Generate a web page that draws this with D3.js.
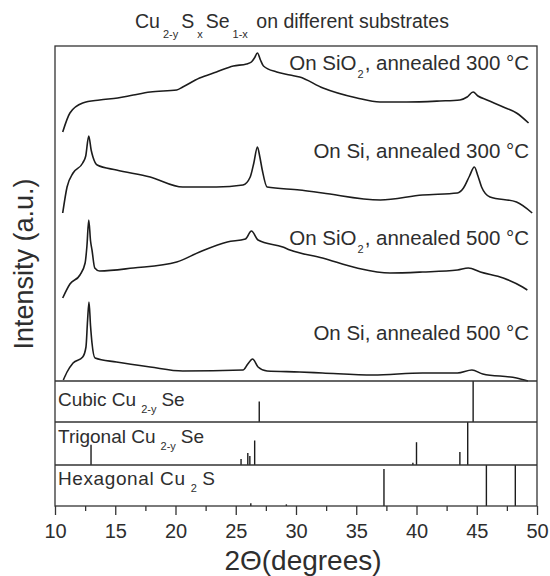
<!DOCTYPE html>
<html>
<head>
<meta charset="utf-8">
<script src="https://cdn.jsdelivr.net/npm/d3@7"></script>
<style>
  body { margin: 0; background: white; }
  svg { font-family: "Liberation Sans", Arial, sans-serif; }
</style>
</head>
<body>
<div id="container"></div>
<script>
/* CONSTANTS AND GLOBALS */
const width = 550;
const height = 576;

/* DATA */
const titleText = "Cu_{2-y}S_{x}Se_{1-x} on different substrates";
const xLabel = "2Θ(degrees)";
const yLabel = "Intensity (a.u.)";
const xTicks = [10, 15, 20, 25, 30, 35, 40, 45, 50];
const xMinorTicks = [12.5, 17.5, 22.5, 27.5, 32.5, 37.5, 42.5, 47.5];

const curveNames = [
  "On SiO_{2}, annealed 300 °C",
  "On Si, annealed 300 °C",
  "On SiO_{2}, annealed 500 °C",
  "On Si, annealed 500 °C"
];

// [2θ, intensity (a.u., stacked)]
const sio2_300 = [[10.64,249],[11.24,268],[12.3,278],[13.7,281],[15.2,283],[16.5,286],[17.9,289],[20.1,291],
  [20.6,294],[22.0,303],[23.4,309],[24.8,315],[25.9,317],[26.3,319],[26.55,323],[26.8,328],[27.05,321],
  [27.3,315],[28.4,309],[29.5,306],[30.3,304],[32.24,293],[35.06,283],[36.97,279],[39.2,279],[41.95,280],
  [43.6,281],[44.2,284],[44.7,289],[45.1,285],[45.85,281],[47.2,274],[48.3,268],[49.3,258]];

const si_300 = [[10.64,168],[11.0,194],[11.5,208],[12.3,218],[12.55,225],[12.8,245],[13.0,231],[13.15,224],
  [13.5,216],[15.1,211],[17.9,204],[20.6,194],[23.4,194],[25.6,196],[26.2,204],[26.5,218],[26.8,234],
  [27.0,224],[27.2,211],[27.6,194],[30.3,191],[32.2,188],[37.0,181],[40.5,186],[43.4,188],[43.9,193],
  [44.4,205],[44.8,214],[45.1,205],[45.4,194],[46.1,184],[48.3,179],[49.6,168]];

const sio2_500 = [[10.64,83],[11.24,97],[12.07,106],[12.5,118],[12.65,135],[12.8,161],[12.95,140],[13.07,131],
  [13.3,113],[13.7,110],[16.5,113],[20.1,119],[22.0,129],[24.3,139],[25.8,142],[26.3,150],[26.85,141],
  [28.9,134],[29.5,131],[32.2,123],[35.06,113],[37.8,108],[40.5,109],[43.4,111],[44.3,113],[45.3,109],
  [47.2,103],[48.8,94],[49.2,91]];

const si_500 = [[10.69,1],[11.0,9],[11.5,18],[12.3,24],[12.57,34],[12.7,60],[12.82,79],[12.95,55],[13.07,38],
  [13.32,23],[15.1,19],[17.9,14],[20.6,10],[25.6,11],[26.0,17],[26.4,22],[26.85,14],[27.6,10],[30.3,9],
  [32.2,8],[36.4,6],[40.5,8],[43.4,8],[44.6,11],[45.5,7],[48.3,3],[49.25,0]];

const phaseNames = ["Cubic Cu_{2-y}Se", "Trigonal Cu_{2-y}Se", "Hexagonal Cu_{2}S"];

// reference sticks: [2θ, relative intensity]
const cubicPeaks = [[26.95, 50], [44.7, 100]];
const trigonalPeaks = [[12.99, 47], [25.44, 14], [26.0, 28], [26.17, 21], [26.57, 57],
  [39.7, 5], [40.0, 53], [43.6, 30], [44.25, 100]];
const hexagonalPeaks = [[26.25, 7], [29.2, 4], [37.3, 90], [45.8, 100], [48.2, 100]];

/* LAYOUT */
const plotLeft = 55, plotRight = 537, plotTop = 46;
const mainBottom = 381;
const panelEdges = [381, 422, 465, 506];
const panelLabelOffset = [25, 21, 20];
const curveLabelY = [70, 158, 245, 340];
const inkColor = "#1c1c1c";
const textColor = "#2e2e2e";

/* HELPERS */
// write "a_{sub}b" style strings into tspans
function richText(sel, str, subSize, subDy, gap) {
  const parts = str.split(/(_\{[^}]*\})/).filter(s => s.length);
  let shifted = false;
  parts.forEach(p => {
    const isSub = p.startsWith("_{");
    const t = sel.append("tspan").text(isSub ? p.slice(2, -1) : p);
    if (isSub) {
      t.attr("font-size", subSize).attr("dy", subDy).attr("dx", gap);
      shifted = true;
    } else if (shifted) {
      t.attr("dy", -subDy).attr("dx", gap);
      shifted = false;
    }
  });
}

/* SCALES */
const xScale = d3.scaleLinear()
  .domain([10, 50])
  .range([plotLeft, plotRight]);

const yMain = d3.scaleLinear()
  .domain([0, 335])
  .range([mainBottom, plotTop]);

/* HTML ELEMENTS */
const svg = d3.select("#container")
  .append("svg")
  .attr("width", width)
  .attr("height", height)
  .style("background-color", "white");

// title
svg.append("text")
  .attr("x", 135)
  .attr("y", 28)
  .attr("font-size", 19.5)
  .attr("fill", textColor)
  .call(t => richText(t, titleText, 11, 10, 3));

// XRD curves
const line = d3.line()
  .x(d => xScale(d[0]))
  .y(d => yMain(d[1]))
  .curve(d3.curveMonotoneX);

svg.selectAll(".curve")
  .data([sio2_300, si_300, sio2_500, si_500])
  .join("path")
  .attr("class", "curve")
  .attr("d", line)
  .attr("fill", "none")
  .attr("stroke", inkColor)
  .attr("stroke-width", 1.6)
  .attr("stroke-linejoin", "round");

svg.selectAll(".curve-label")
  .data(curveNames)
  .join("text")
  .attr("class", "curve-label")
  .attr("x", 529)
  .attr("y", (d, i) => curveLabelY[i])
  .attr("text-anchor", "end")
  .attr("font-size", 20.5)
  .attr("fill", textColor)
  .each(function (d) { richText(d3.select(this), d, 11, 8, 1); });

// reference panels
const panels = [cubicPeaks, trigonalPeaks, hexagonalPeaks].map((peaks, i) => ({
  name: phaseNames[i],
  peaks,
  y: d3.scaleLinear().domain([0, 100]).range([panelEdges[i + 1], panelEdges[i]])
}));

panels.forEach((p, i) => {
  svg.append("g")
    .selectAll("line")
    .data(p.peaks)
    .join("line")
    .attr("x1", d => xScale(d[0]))
    .attr("x2", d => xScale(d[0]))
    .attr("y1", p.y(0))
    .attr("y2", d => p.y(d[1]))
    .attr("stroke", inkColor)
    .attr("stroke-width", 1.4);

  svg.append("text")
    .attr("x", 58)
    .attr("y", panelEdges[i] + panelLabelOffset[i])
    .attr("font-size", 19)
    .attr("letter-spacing", i === 2 ? 0.6 : 0)
    .attr("fill", textColor)
    .call(t => richText(t, p.name, 11, 7, 5));
});

// frame and separators
svg.append("rect")
  .attr("x", plotLeft)
  .attr("y", plotTop)
  .attr("width", plotRight - plotLeft)
  .attr("height", panelEdges[3] - plotTop)
  .attr("fill", "none")
  .attr("stroke", "#333")
  .attr("stroke-width", 1.3);

svg.selectAll(".sep")
  .data(panelEdges.slice(0, 3))
  .join("line")
  .attr("class", "sep")
  .attr("x1", plotLeft)
  .attr("x2", plotRight)
  .attr("y1", d => d)
  .attr("y2", d => d)
  .attr("stroke", "#333")
  .attr("stroke-width", 1.3);

/* AXES */
const xAxis = svg.append("g")
  .attr("transform", `translate(0,${panelEdges[3]})`)
  .call(d3.axisBottom(xScale).tickValues(xTicks).tickSize(9).tickPadding(9).tickFormat(d3.format("d")));

const xMinor = svg.append("g")
  .attr("transform", `translate(0,${panelEdges[3]})`)
  .call(d3.axisBottom(xScale).tickValues(xMinorTicks).tickSize(5).tickFormat(""));

[xAxis, xMinor].forEach(g => {
  g.select(".domain").remove();
  g.selectAll("line").attr("stroke", "#333").attr("stroke-width", 1.3);
  g.selectAll("text")
    .attr("font-size", 20)
    .attr("font-family", "'Liberation Sans', Arial, sans-serif")
    .attr("fill", textColor);
});

svg.append("text")
  .attr("x", 303)
  .attr("y", 570)
  .attr("text-anchor", "middle")
  .attr("font-size", 28)
  .attr("fill", textColor)
  .text(xLabel);

svg.append("text")
  .attr("transform", "translate(33,264) rotate(-90)")
  .attr("text-anchor", "middle")
  .attr("font-size", 27)
  .attr("fill", textColor)
  .text(yLabel);
</script>
</body>
</html>
